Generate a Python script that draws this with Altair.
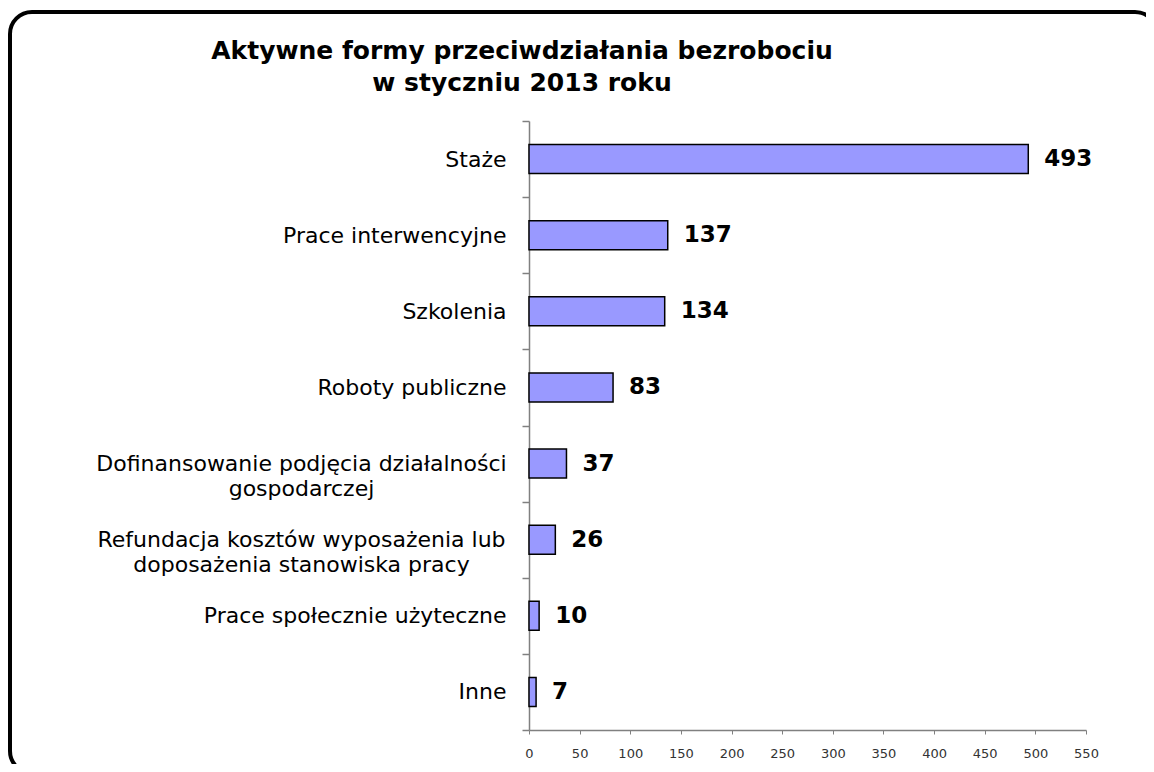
import altair as alt
import pandas as pd

categories = [
    "Staże",
    "Prace interwencyjne",
    "Szkolenia",
    "Roboty publiczne",
    "Dofinansowanie podjęcia działalności\ngospodarczej",
    "Refundacja kosztów wyposażenia lub\ndoposażenia stanowiska pracy",
    "Prace społecznie użyteczne",
    "Inne",
]
values = [493, 137, 134, 83, 37, 26, 10, 7]
x_ticks = [0, 50, 100, 150, 200, 250, 300, 350, 400, 450, 500, 550]
title_text = "Aktywne formy przeciwdziałania bezrobociu\nw styczniu 2013 roku"

df = pd.DataFrame({"forma": categories, "liczba": values})

multi = "indexof(datum.label, '\\n') >= 0"

y_enc = alt.Y(
    "forma:N",
    sort=categories,
    title=None,
    scale=alt.Scale(paddingInner=0, paddingOuter=0),
    axis=alt.Axis(
        labelExpr="split(datum.label, '\\n')",
        labelAlign={"condition": {"test": multi, "value": "center"}, "value": "right"},
        labelPadding={"condition": {"test": multi, "value": 221}, "value": 16},
        labelBaseline="middle",
        labelFont="DejaVu Sans",
        labelFontSize=22,
        labelColor="#000000",
        labelLineHeight=25,
        labelLimit=0,
        tickSize=7,
        tickColor="#808080",
        tickWidth=1.5,
        domainColor="#808080",
        domainWidth=1.5,
        tickBand="extent",
    ),
)
x_enc = alt.X(
    "liczba:Q",
    title=None,
    scale=alt.Scale(domain=[0, 550], nice=False),
    axis=alt.Axis(
        values=x_ticks,
        grid=False,
        labelFont="DejaVu Sans",
        labelFontSize=13,
        labelColor="#333333",
        labelPadding=13,
        tickSize=4,
        tickColor="#808080",
        domainColor="#808080",
        domainWidth=1.5,
        labelFlush=False,
    ),
)

base = alt.Chart(df)
bars = base.mark_bar(size=29, fill="#9999FF", stroke="black", strokeWidth=1.5).encode(
    x=x_enc, y=y_enc
)
labels = base.mark_text(
    align="left", baseline="middle", dx=16,
    font="DejaVu Sans", fontWeight="bold", fontSize=23, color="black",
).encode(x="liczba:Q", y=alt.Y("forma:N", sort=categories), text="liczba:Q")

frame = alt.Chart(pd.DataFrame({"f": [0]})).mark_rect(
    fill="transparent", stroke="black", strokeWidth=4, cornerRadius=22
).encode(
    x=alt.value(-519), x2=alt.value(628), y=alt.value(-109), y2=alt.value(652)
)

title = alt.Chart(pd.DataFrame({"t": [title_text]})).mark_text(
    lineBreak="\n", align="center", baseline="top", lineHeight=32,
    font="DejaVu Sans", fontWeight="bold", fontSize=25, color="black",
).encode(text="t:N", x=alt.value(-7), y=alt.value(-82))

chart = (
    alt.layer(frame, bars, labels, title)
    .properties(
        width=557,
        height=609,
        autosize="none",
        padding={"left": 521, "top": 113, "right": 60, "bottom": 34},
        background="white",
    )
    .configure_view(strokeWidth=0)
)

chart.save("out.html", embed_options={"renderer": "svg", "actions": False})
